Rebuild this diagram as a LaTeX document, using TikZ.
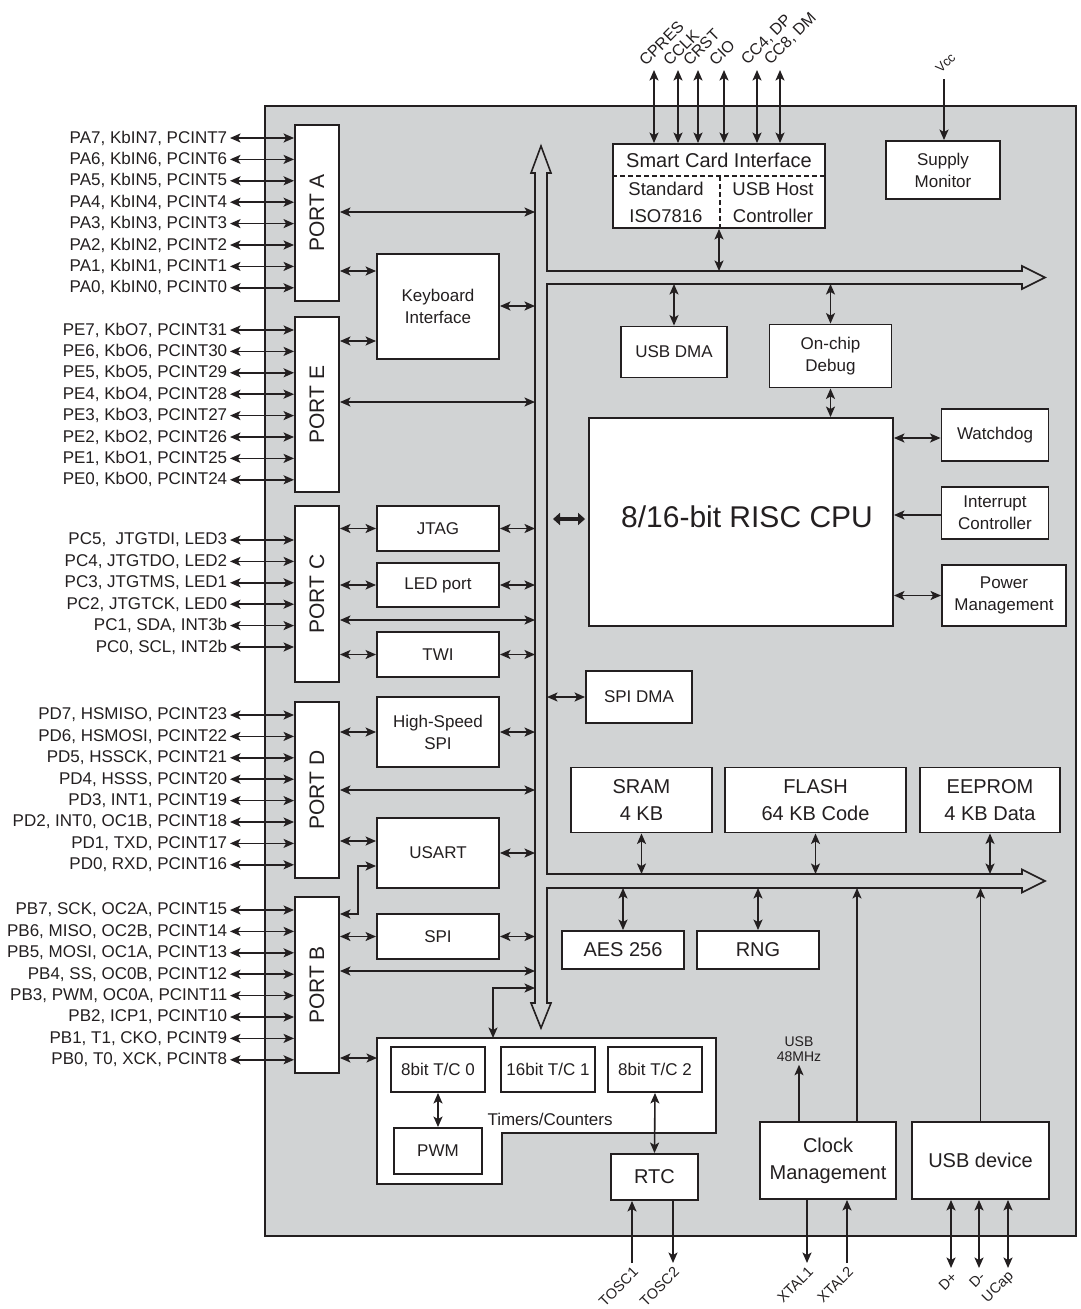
\documentclass[tikz,border=0pt]{standalone}
\usepackage{fontspec}
\setmainfont{Liberation Sans}
\usetikzlibrary{arrows.meta, calc}

\definecolor{chipgray}{RGB}{209,211,212}
\definecolor{ink}{RGB}{35,31,32}

\begin{document}
\begin{tikzpicture}[
    x=1pt, y=-1pt,
    >={Stealth[length=10.5pt, width=9pt, inset=2.5pt]},
    line width=1.6pt, color=ink,
    font=\fontsize{17}{22}\selectfont,
    % cajas
    blockbox/.style={rectangle, draw=ink, fill=white, line width=1.9pt, inner sep=0pt, align=center},
    bigbox/.style={blockbox, font=\fontsize{20}{27}\selectfont},
    portbox/.style={rectangle, draw=ink, fill=white, line width=1.9pt, minimum width=44pt, minimum height=176pt, inner sep=0pt},
    portlbl/.style={rotate=90, font=\fontsize{21}{24}\selectfont},
    pinlbl/.style={anchor=east, inner sep=2pt, font=\fontsize{17}{20}\selectfont},
    toplbl/.style={anchor=south west, inner sep=0pt, rotate=45, font=\fontsize{16}{18}\selectfont},
    botlbl/.style={anchor=east, inner sep=0pt, rotate=45, font=\fontsize{14.5}{17}\selectfont},
    dbl/.style={<->, line width=1.6pt},
    sgl/.style={->, line width=1.6pt},
    fatarrow/.style={arrows={Triangle[length=7pt,width=12pt]-Triangle[length=7pt,width=12pt]}, line width=4.5pt}
]
\useasboundingbox (0,0) rectangle (1081,1309);

% -------------------------
% Chip y bus interno
% -------------------------
\draw[fill=chipgray] (265,106) rectangle (1076,1236);

\coordinate (busL) at (535,0);
\coordinate (busR) at (547,0);
\coordinate (ubusT) at (0,271);
\coordinate (ubusB) at (0,284);
\coordinate (lbusT) at (0,874);
\coordinate (lbusB) at (0,888);

\draw[fill=chipgray] (541,146) -- (551,173) -- (547,173) -- (547,271) -- (1022,271)
    -- (1022,266) -- (1045,277.5) -- (1022,289) -- (1022,284) -- (547,284) -- (547,874)
    -- (1022,874) -- (1022,869.5) -- (1045,881) -- (1022,892.5) -- (1022,888) -- (547,888)
    -- (547,1003) -- (551,1003) -- (541,1028) -- (531,1003) -- (535,1003) -- (535,173)
    -- (531,173) -- cycle;

% -------------------------
% Puertos
% -------------------------
\node[portbox, label={[portlbl]center:PORT A}] (portA) at (317,213) {};
\node[portbox, minimum height=175pt, label={[portlbl]center:PORT E}] (portE) at (317,404.5) {};
\node[portbox, label={[portlbl]center:PORT C}] (portC) at (317,594) {};
\node[portbox, label={[portlbl]center:PORT D}] (portD) at (317,790) {};
\node[portbox, label={[portlbl]center:PORT B}] (portB) at (317,985) {};

% pines
\foreach \i [evaluate=\i as \n using {int(7-\i)}] in {0,...,7} {
    \node[pinlbl] (pa\i) at ({230},{138+21.4*\i}) {PA\n, KbIN\n, PCINT\n};
    \draw[dbl] (pa\i.east) -- (portA.west |- pa\i.east);
}
\foreach \i [evaluate=\i as \n using {int(7-\i)}, evaluate=\i as \m using {int(31-\i)}] in {0,...,7} {
    \node[pinlbl] (pe\i) at ({230},{330+21.4*\i}) {PE\n, KbO\n, PCINT\m};
    \draw[dbl] (pe\i.east) -- (portE.west |- pe\i.east);
}
\foreach \t [count=\i from 0] in {{PC5,\ \ JTGTDI, LED3}, {PC4, JTGTDO, LED2}, {PC3, JTGTMS, LED1},
        {PC2, JTGTCK, LED0}, {PC1, SDA, INT3b}, {PC0, SCL, INT2b}} {
    \node[pinlbl] (pc\i) at ({230},{540+21.4*\i}) {\t};
    \draw[dbl] (pc\i.east) -- (portC.west |- pc\i.east);
}
\foreach \t [count=\i from 0] in {{PD7, HSMISO, PCINT23}, {PD6, HSMOSI, PCINT22}, {PD5, HSSCK, PCINT21},
        {PD4, HSSS, PCINT20}, {PD3, INT1, PCINT19}, {PD2, INT0, OC1B, PCINT18},
        {PD1, TXD, PCINT17}, {PD0, RXD, PCINT16}} {
    \node[pinlbl] (pd\i) at ({230},{715+21.4*\i}) {\t};
    \draw[dbl] (pd\i.east) -- (portD.west |- pd\i.east);
}
\foreach \t [count=\i from 0] in {{PB7, SCK, OC2A, PCINT15}, {PB6, MISO, OC2B, PCINT14},
        {PB5, MOSI, OC1A, PCINT13}, {PB4, SS, OC0B, PCINT12}, {PB3, PWM, OC0A, PCINT11},
        {PB2, ICP1, PCINT10}, {PB1, T1, CKO, PCINT9}, {PB0, T0, XCK, PCINT8}} {
    \node[pinlbl] (pb\i) at ({230},{910+21.4*\i}) {\t};
    \draw[dbl] (pb\i.east) -- (portB.west |- pb\i.east);
}

% -------------------------
% Periféricos (izquierda)
% -------------------------
\node[blockbox, minimum width=122pt, minimum height=105pt] (kbd) at (438,306.5) {Keyboard\\Interface};
\node[blockbox, minimum width=122pt, minimum height=45pt] (jtag) at (438,528.5) {JTAG};
\node[blockbox, minimum width=122pt, minimum height=44pt] (led) at (438,585) {LED port};
\node[blockbox, minimum width=122pt, minimum height=45pt] (twi) at (438,654.5) {TWI};
\node[blockbox, minimum width=122pt, minimum height=70pt] (hsspi) at (438,732) {High-Speed\\SPI};
\node[blockbox, minimum width=122pt, minimum height=70pt] (usart) at (438,853) {USART};
\node[blockbox, minimum width=122pt, minimum height=45pt] (spi) at (438,936.5) {SPI};

% Timers/Counters
\draw[fill=white, line width=1.9pt] (377,1038) -- (716,1038) -- (716,1133) -- (502,1133)
    -- (502,1184) -- (377,1184) -- cycle;
\coordinate (tmrW) at (377,1058);
\coordinate (tmrN) at (493,1038);
\node[blockbox, minimum width=94pt, minimum height=45pt] (tc0) at (438,1069.5) {8bit T/C 0};
\node[blockbox, minimum width=94pt, minimum height=45pt] (tc1) at (548,1069.5) {16bit T/C 1};
\node[blockbox, minimum width=94pt, minimum height=45pt] (tc2) at (655,1069.5) {8bit T/C 2};
\node[blockbox, minimum width=88pt, minimum height=46pt] (pwm) at (438,1151) {PWM};
\node (tmrlbl) at (550,1119) {Timers/Counters};
\node[bigbox, minimum width=87pt, minimum height=46pt] (rtc) at (654.5,1177) {RTC};

% Conexiones puertos
\draw[dbl] (portA.east |- 0,212) -- (busL |- 0,212);
\draw[dbl] (portA.east |- 0,271) -- (kbd.west |- 0,271);
\draw[dbl] (kbd.east |- 0,306) -- (busL |- 0,306);
\draw[dbl] (portE.east |- 0,341) -- (kbd.west |- 0,341);
\draw[dbl] (portE.east |- 0,402) -- (busL |- 0,402);

\draw[dbl] (portC.east |- jtag.west) -- (jtag.west);
\draw[dbl] (jtag.east) -- (busL |- jtag.east);
\draw[dbl] (portC.east |- led.west) -- (led.west);
\draw[dbl] (led.east) -- (busL |- led.east);
\draw[dbl] (portC.east |- 0,620) -- (busL |- 0,620);
\draw[dbl] (portC.east |- twi.west) -- (twi.west);
\draw[dbl] (twi.east) -- (busL |- twi.east);

\draw[dbl] (portD.east |- hsspi.west) -- (hsspi.west);
\draw[dbl] (hsspi.east) -- (busL |- hsspi.east);
\draw[dbl] (portD.east |- 0,790) -- (busL |- 0,790);
\draw[dbl] (portD.east |- 0,841) -- (usart.west |- 0,841);
\draw[dbl] (usart.east |- 0,853) -- (busL |- 0,853);

\coordinate (usk) at (358,866);
\draw[dbl] (portB.east |- 0,914) -| (usk) -- (usart.west |- usk);
\draw[dbl] (portB.east |- spi.west) -- (spi.west);
\draw[dbl] (spi.east) -- (busL |- spi.east);
\draw[dbl] (portB.east |- 0,971) -- (busL |- 0,971);
\draw[dbl] (busL |- 0,988) -| (tmrN);
\draw[dbl] (portB.east |- tmrW) -- (tmrW);

\draw[dbl] (tc0.south) -- (pwm.north);
\draw[dbl] (tc2.south) -- (rtc.north);

% -------------------------
% Bloques (derecha)
% -------------------------
\node[blockbox, minimum width=212pt, minimum height=84pt] (sci) at (719,186) {};
\node[font=\fontsize{20}{24}\selectfont] (scititle) at (719,160) {Smart Card Interface};
\node[align=center, font=\fontsize{18.5}{27}\selectfont] (sciiso) at (666,202.5) {Standard\\ISO7816};
\node[align=center, font=\fontsize{18.5}{27}\selectfont] (scihost) at (773,202.5) {USB Host\\Controller};
\draw[dash pattern=on 5pt off 3pt] (sci.west |- 0,176) -- (sci.east |- 0,176);
\draw[dash pattern=on 5pt off 3pt] (720,176) -- (sci.south -| 720,0);

\node[blockbox, minimum width=114pt, minimum height=58pt] (supply) at (943,170) {Supply\\Monitor};
\node[blockbox, minimum width=106pt, minimum height=51pt] (usbdma) at (674,352) {USB DMA};
\node[blockbox, minimum width=122pt, minimum height=63pt] (ocd) at (830.5,356) {On-chip\\Debug};
\node[blockbox, minimum width=304pt, minimum height=208pt] (cpu) at (741,522) {};
\node[font=\fontsize{30}{36}\selectfont] (cpulbl) at (747,517) {8/16-bit RISC CPU};
\node[blockbox, minimum width=107pt, minimum height=52pt] (wdog) at (995,435) {Watchdog};
\node[blockbox, minimum width=107pt, minimum height=52pt] (intc) at (995,513) {Interrupt\\Controller};
\node[blockbox, minimum width=124pt, minimum height=61pt] (pwr) at (1004,595.5) {Power\\Management};
\node[blockbox, minimum width=106pt, minimum height=52pt] (spidma) at (639,697) {SPI DMA};

\node[bigbox, minimum width=141pt, minimum height=65pt] (sram) at (641.5,800) {SRAM\\4 KB};
\node[bigbox, minimum width=181pt, minimum height=65pt] (flash) at (815.5,800) {FLASH\\64 KB Code};
\node[bigbox, minimum width=140pt, minimum height=65pt] (eeprom) at (990,800) {EEPROM\\4 KB Data};
\node[bigbox, minimum width=122pt, minimum height=38pt] (aes) at (623,950) {AES 256};
\node[bigbox, minimum width=122pt, minimum height=38pt] (rng) at (758,950) {RNG};
\node[bigbox, minimum width=136pt, minimum height=77pt] (clk) at (828,1160.5) {Clock\\Management};
\node[bigbox, minimum width=137pt, minimum height=77pt] (usbdev) at (980.5,1160.5) {USB device};
\node[align=center, inner sep=2pt, font=\fontsize{14}{15}\selectfont] (usb48) at (799,1049.5) {USB\\48MHz};

% Conexiones internas
\draw[dbl] (sci.south) -- (sci.south |- ubusT);
\draw[dbl] (usbdma.north) -- (usbdma.north |- ubusB);
\draw[dbl] (ocd.north) -- (ocd.north |- ubusB);
\draw[dbl] (ocd.south) -- (ocd.south |- cpu.north);
\draw[dbl] (cpu.east |- 0,438) -- (wdog.west |- 0,438);
\draw[sgl] (intc.west |- 0,515) -- (cpu.east |- 0,515);
\draw[dbl] (cpu.east |- pwr.west) -- (pwr.west);
\draw[fatarrow] ($(busR |- 0,519)+(6,0)$) -- ($(cpu.west |- 0,519)+(-3,0)$);
\draw[dbl] (busR |- spidma.west) -- (spidma.west);

\draw[dbl] (sram.south) -- (sram.south |- lbusT);
\draw[dbl] (flash.south) -- (flash.south |- lbusT);
\draw[dbl] (eeprom.south) -- (eeprom.south |- lbusT);
\draw[dbl] (aes.north) -- (aes.north |- lbusB);
\draw[dbl] (rng.north) -- (rng.north |- lbusB);
\draw[sgl] (clk.north -| 857,0) -- (lbusB -| 857,0);
\draw[sgl] (usbdev.north) -- (usbdev.north |- lbusB);
\draw[sgl] (clk.north -| usb48) -- (usb48.south);

% -------------------------
% Pines superiores e inferiores
% -------------------------
\foreach \x/\t in {654/CPRES, 678/CCLK, 698/CRST, 724/CIO, 757/{CC4, DP}, 780/{CC8, DM}} {
    \coordinate (sc\x) at (\x,70);
    \draw[dbl] (sc\x) -- (sci.north -| sc\x);
    \node[toplbl] (sclbl\x) at ($(sc\x)+(-8,-2)$) {\t};
}
\coordinate (vccpin) at (944,79);
\draw[sgl] (vccpin) -- (supply.north -| vccpin);
\node[toplbl, font=\fontsize{13}{15}\selectfont] (vcclbl) at ($(vccpin)+(-3,-4)$) {Vcc};

\coordinate (tosc1pin) at (632,1263);
\coordinate (tosc2pin) at (673,1263);
\coordinate (xtal1pin) at (807,1263);
\coordinate (xtal2pin) at (847,1263);
\coordinate (dppin) at (951,1268);
\coordinate (dmpin) at (979,1268);
\coordinate (ucappin) at (1008,1268);
\draw[sgl] (tosc1pin) -- (rtc.south -| tosc1pin);
\draw[sgl] (rtc.south -| tosc2pin) -- (tosc2pin);
\draw[sgl] (clk.south -| xtal1pin) -- (xtal1pin);
\draw[sgl] (xtal2pin) -- (clk.south -| xtal2pin);
\foreach \p in {dppin, dmpin, ucappin}
    \draw[dbl] (usbdev.south -| \p) -- (\p);
\foreach \p/\t in {tosc1pin/TOSC1, tosc2pin/TOSC2, xtal1pin/XTAL1, xtal2pin/XTAL2, dppin/D+, dmpin/D-, ucappin/UCap}
    \node[botlbl] (\p lbl) at ($(\p)+(4,6)$) {\t};

\end{tikzpicture}
\end{document}
